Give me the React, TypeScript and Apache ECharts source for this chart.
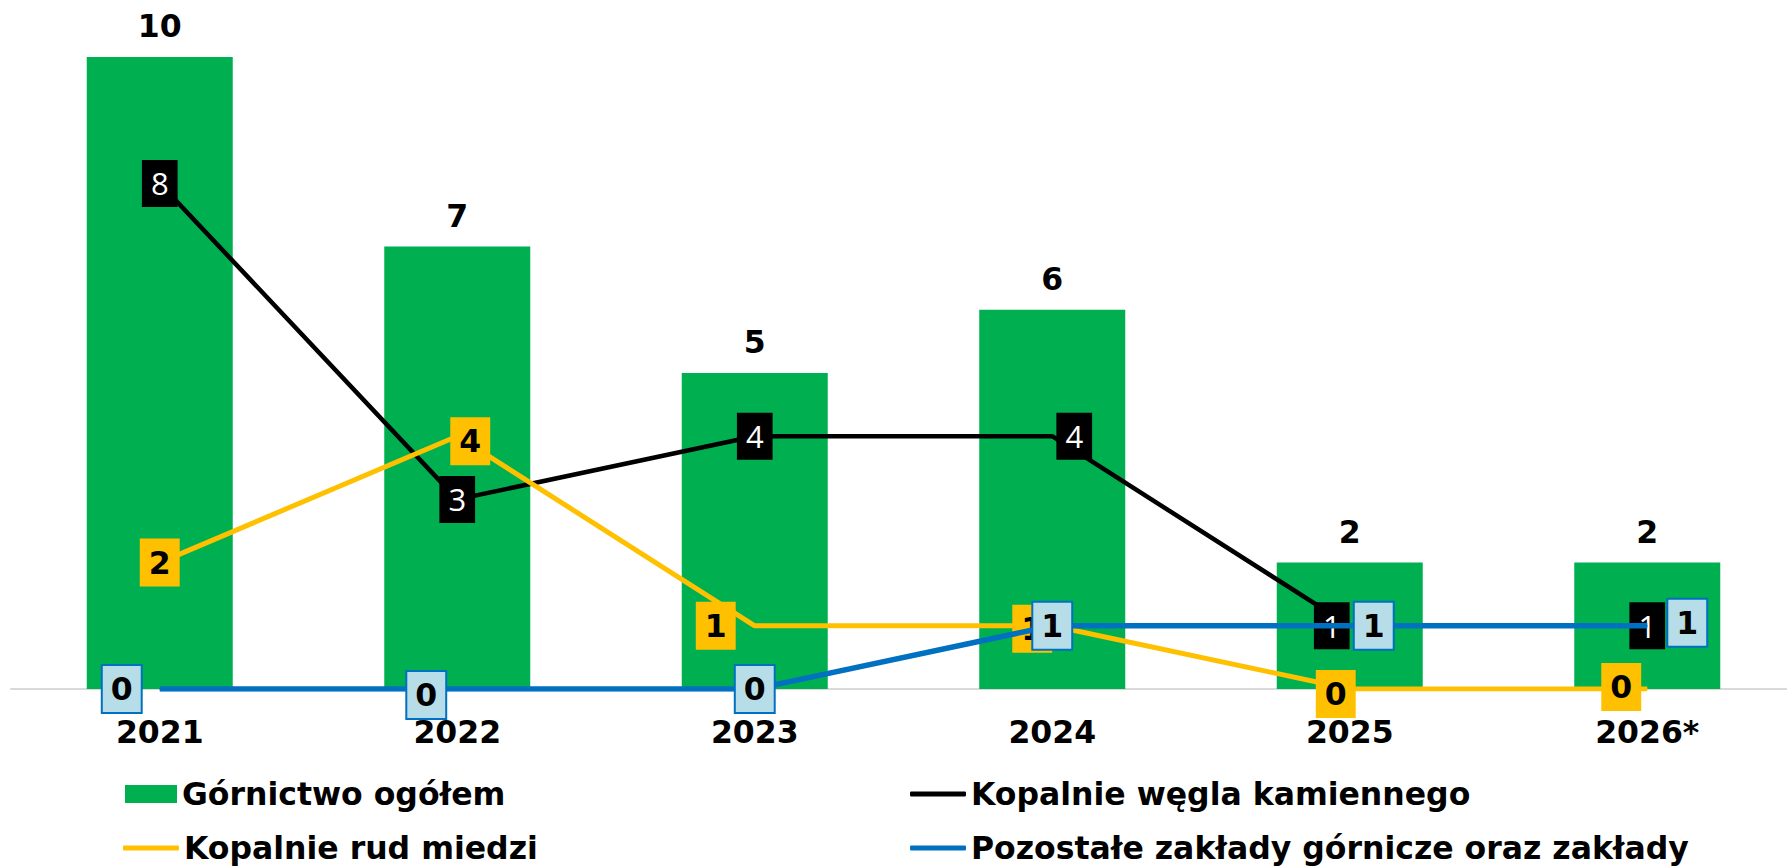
import React, { useEffect, useRef } from "react";
import * as echarts from "echarts";

const categories = ["2021", "2022", "2023", "2024", "2025", "2026*"];
const totalMining = [10, 7, 5, 6, 2, 2];
const hardCoal = [8, 3, 4, 4, 1, 1];
const copperOre = [2, 4, 1, 1, 0, 0];
const otherPlants = [0, 0, 0, 1, 1, 1];

const seriesNames = [
  "Górnictwo ogółem",
  "Kopalnie węgla kamiennego",
  "Kopalnie rud miedzi",
  "Pozostałe zakłady górnicze oraz zakłady",
];

// manual label nudges (pixels) as in the original chart
const coalLabelOffsets = [[0, 0], [0, 0], [0, 0], [22, 0], [-18, 0], [0, 0]];
const copperLabelOffsets = [[0, 0], [13, 5], [-39, 0], [-20, 3], [-14, 5], [-26, -2]];
const otherLabelOffsets = [[-38, 0], [-31, 6], [0, 0], [0, 0], [24, 0], [40, -3]];

const BOLD = "'DejaVu Sans', Verdana, sans-serif";

export default function App() {
  const ref = useRef<HTMLDivElement>(null);

  useEffect(() => {
    document.body.style.margin = "0";
    document.body.style.overflow = "hidden";
    document.documentElement.style.overflow = "hidden";
    if (!ref.current) return;
    const chart = echarts.init(ref.current, null, { renderer: "svg" });

    const boldText = { fontFamily: BOLD, fontWeight: "bold" as const, fontSize: 31.5, color: "#000" };

    const mk = (vals: number[], offs: number[][]) =>
      vals.map((v, i) => ({ value: v, label: { offset: offs[i] } }));

    chart.setOption({
      animation: false,
      backgroundColor: "#fff",
      grid: { left: 11, top: 57, right: 0, bottom: 179, containLabel: false },
      xAxis: {
        type: "category",
        data: categories,
        axisLine: { show: true, lineStyle: { color: "#D9D9D9", width: 2 } },
        axisTick: { show: false },
        axisLabel: { ...boldText, margin: 27 },
        splitLine: { show: false },
      },
      yAxis: {
        type: "value",
        min: 0,
        max: 10,
        show: false,
        splitLine: { show: false },
      },
      legend: [
        {
          data: [{ name: seriesNames[0], icon: "rect" }],
          left: 125, top: 777, padding: 0,
          itemWidth: 52, itemHeight: 18,
          textStyle: { ...boldText, lineHeight: 34 },
          selectedMode: false,
        },
        {
          data: [{ name: seriesNames[2], icon: "roundRect" }],
          left: 123, top: 831, padding: 0,
          itemWidth: 56, itemHeight: 5,
          textStyle: { ...boldText, lineHeight: 34 },
          selectedMode: false,
        },
        {
          data: [{ name: seriesNames[1], icon: "roundRect" }],
          left: 910, top: 777, padding: 0,
          itemWidth: 56, itemHeight: 5,
          textStyle: { ...boldText, lineHeight: 34 },
          selectedMode: false,
        },
        {
          data: [{ name: seriesNames[3], icon: "roundRect" }],
          left: 910, top: 831, padding: 0,
          itemWidth: 56, itemHeight: 5,
          textStyle: { ...boldText, lineHeight: 34 },
          selectedMode: false,
        },
      ],
      series: [
        {
          name: seriesNames[0],
          type: "bar",
          data: totalMining,
          barWidth: 146,
          itemStyle: { color: "#00B050" },
          label: { show: true, position: "top", distance: 15, ...boldText },
          z: 1,
        },
        {
          name: seriesNames[1],
          type: "line",
          data: mk(hardCoal, coalLabelOffsets),
          symbol: "circle",
          symbolSize: 1,
          itemStyle: { color: "#000" },
          lineStyle: { color: "#000", width: 4.5 },
          label: {
            show: true,
            position: "inside",
            fontFamily: "'Open Sans', 'Noto Sans', sans-serif",
            fontSize: 31,
            fontWeight: "normal",
            color: "#fff",
            backgroundColor: "#000",
            padding: [7, 9, 7, 9],
            lineHeight: 33,
          },
          z: 3,
        },
        {
          name: seriesNames[2],
          type: "line",
          data: mk(copperOre, copperLabelOffsets),
          symbol: "circle",
          symbolSize: 1,
          itemStyle: { color: "#FFC000" },
          lineStyle: { color: "#FFC000", width: 5 },
          label: {
            show: true,
            position: "inside",
            ...boldText,
            backgroundColor: "#FFC000",
            padding: [7, 9, 7, 9],
            lineHeight: 34,
          },
          z: 4,
        },
        {
          name: seriesNames[3],
          type: "line",
          data: mk(otherPlants, otherLabelOffsets),
          symbol: "circle",
          symbolSize: 1,
          itemStyle: { color: "#0070C0" },
          lineStyle: { color: "#0070C0", width: 5.5 },
          label: {
            show: true,
            position: "inside",
            ...boldText,
            backgroundColor: "#B7DEE8",
            borderColor: "#0070C0",
            borderWidth: 2,
            padding: [6, 8, 6, 8],
            lineHeight: 34,
          },
          z: 5,
        },
      ],
    });

    return () => chart.dispose();
  }, []);

  return <div ref={ref} style={{ width: 1796, height: 868 }} />;
}
